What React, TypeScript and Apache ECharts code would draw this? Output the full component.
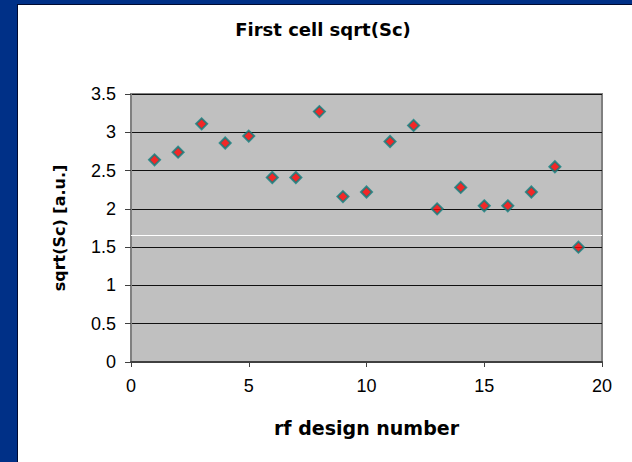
import React, { useEffect, useRef } from "react";
import * as echarts from "echarts";

const chartTitle = "First cell sqrt(Sc)";
const xAxisTitle = "rf design number";
const yAxisTitle = "sqrt(Sc) [a.u.]";

const designNumbers = [1, 2, 3, 4, 5, 6, 7, 8, 9, 10, 11, 12, 13, 14, 15, 16, 17, 18, 19];
const sqrtSc = [2.64, 2.74, 3.11, 2.86, 2.95, 2.41, 2.41, 3.27, 2.16, 2.22, 2.88, 3.09, 2.0, 2.28, 2.04, 2.04, 2.22, 2.55, 1.5];

const xMin = 0;
const xMax = 20;
const xStep = 5;
const yMin = 0;
const yMax = 3.5;
const yStep = 0.5;
const whiteLineValue = 1.65;

export default function App() {
  const ref = useRef<HTMLDivElement>(null);

  useEffect(() => {
    document.body.style.margin = "0";
    if (!ref.current) return;
    const chart = echarts.init(ref.current, undefined, { renderer: "svg" });
    const tickFont = { fontFamily: "Liberation Sans", fontSize: 18, color: "#000" };
    chart.setOption({
      animation: false,
      backgroundColor: "transparent",
      title: {
        text: chartTitle,
        left: 323,
        top: 20,
        padding: 0,
        textAlign: "center",
        textStyle: { fontFamily: "DejaVu Sans", fontWeight: "bold", fontSize: 18, color: "#000" },
      },
      grid: {
        left: 131,
        top: 94,
        right: 30,
        bottom: 100,
        show: true,
        backgroundColor: "#C0C0C0",
        borderColor: "#808080",
        borderWidth: 2,
        containLabel: false,
      },
      xAxis: {
        type: "value",
        min: xMin,
        max: xMax,
        interval: xStep,
        name: xAxisTitle,
        nameLocation: "middle",
        nameGap: 56,
        nameTextStyle: { fontFamily: "DejaVu Sans", fontWeight: "bold", fontSize: 19, color: "#000" },
        axisLine: { show: true, lineStyle: { color: "#404040", width: 2 } },
        axisTick: { show: true, inside: false, length: 5, lineStyle: { color: "#404040", width: 1 } },
        axisLabel: { ...tickFont, margin: 15 },
        splitLine: { show: false },
      },
      yAxis: {
        type: "value",
        min: yMin,
        max: yMax,
        interval: yStep,
        name: yAxisTitle,
        nameLocation: "middle",
        nameRotate: 90,
        nameGap: 64,
        nameTextStyle: { fontFamily: "DejaVu Sans", fontWeight: "bold", fontSize: 16, color: "#000" },
        axisLine: { show: true, lineStyle: { color: "#808080", width: 2 } },
        axisTick: { show: true, inside: false, length: 6, lineStyle: { color: "#404040", width: 1 } },
        axisLabel: { ...tickFont, margin: 15 },
        splitLine: { show: true, lineStyle: { color: "#111", width: 1.2 } },
      },
      series: [
        {
          type: "scatter",
          data: designNumbers.map((x, i) => [x, sqrtSc[i]]),
          symbol: "diamond",
          symbolSize: 11,
          itemStyle: { color: "#FF0000", borderColor: "#0E8080", borderWidth: 2 },
          markLine: {
            silent: true,
            symbol: "none",
            label: { show: false },
            lineStyle: { color: "#FFFFFF", width: 1.2, type: "solid" },
            data: [{ yAxis: whiteLineValue }],
          },
        },
      ],
    });
    return () => chart.dispose();
  }, []);

  return (
    <div style={{ position: "relative", width: 632, height: 462, background: "#003087", overflow: "hidden" }}>
      <div
        style={{
          position: "absolute",
          left: 17,
          top: 4,
          width: 615,
          height: 458,
          background: "#FFFFFF",
          borderLeft: "1px solid #000A30",
          borderTop: "1px solid #000A30",
          boxSizing: "border-box",
        }}
      />
      <div ref={ref} style={{ position: "absolute", left: 0, top: 0, width: 632, height: 462 }} />
    </div>
  );
}
